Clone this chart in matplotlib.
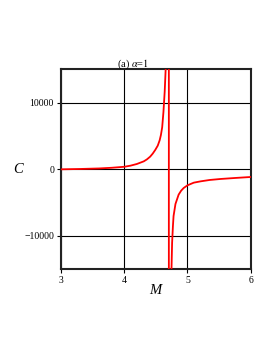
import numpy as np
import matplotlib
matplotlib.use('Agg')
import matplotlib.pyplot as plt

plt.rcParams['font.family'] = ['Liberation Serif', 'DejaVu Serif']
plt.rcParams['mathtext.fontset'] = 'stix'

# left branch (rises to +inf near the pole)
m_left = [3.0, 3.3, 3.6, 3.8, 4.0, 4.1, 4.2, 4.31, 4.36, 4.41, 4.45, 4.49, 4.53, 4.56, 4.58, 4.60, 4.62, 4.64, 4.656, 4.665, 4.703]
c_left = [0, 50, 130, 230, 380, 550, 800, 1200, 1500, 1900, 2350, 2900, 3550, 4350, 5150, 6300, 8600, 11700, 15200, 17000, 1e6]
# right branch (comes up from -inf)
m_right = [4.708, 4.746, 4.757, 4.77, 4.78, 4.81, 4.86, 4.9, 4.94, 5.0, 5.1, 5.21, 5.35, 5.52, 5.75, 6.0]
c_right = [-1e6, -15500, -11000, -8500, -7000, -5200, -3800, -3200, -2800, -2400, -2000, -1800, -1600, -1450, -1300, -1150]

xticks = [3, 4, 5, 6]
yticks = [-10000, 0, 10000]

fig = plt.figure(figsize=(2.73, 3.53), dpi=100)
ax = fig.add_axes([0.2234, 0.237, 0.695, 0.5667])

ax.plot(m_left + m_right, c_left + c_right, c='red', lw=1.3, zorder=3)

ax.set_xlim(3, 6)
ax.set_ylim(-15000, 15000)
ax.set_xticks(xticks)
ax.set_yticks(yticks)
ax.grid(color='black', lw=0.8)
ax.tick_params(labelsize=7, length=3, width=0.8, pad=2, color='black')
for s in ax.spines.values():
    s.set_linewidth(1.5)
    s.set_color('#222222')

ax.set_xlabel('M', fontsize=10.5, style='italic', va='center')
ax.set_ylabel('C', fontsize=10.5, style='italic', rotation=0, ha='center', va='center')
ax.xaxis.set_label_coords(0.495, -0.108)
ax.yaxis.set_label_coords(-0.226, 0.5)
fig.text(133/273, 1 - 64/353, r'(a) $\mathit{\alpha}$=$\mathit{1}$', fontsize=7.5, ha='center', va='center')

fig.savefig('out.png', dpi=100)
